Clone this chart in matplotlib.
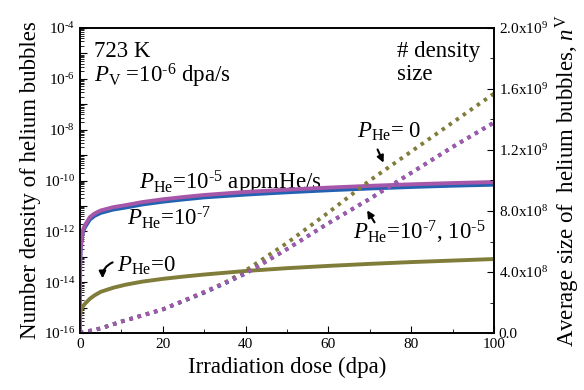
import matplotlib
matplotlib.use('agg')
import matplotlib.pyplot as plt
import matplotlib.ticker as mticker
import numpy as np

plt.rcParams['font.family'] = ['Liberation Serif', 'DejaVu Serif']
plt.rcParams['mathtext.fontset'] = 'custom'
plt.rcParams['mathtext.rm'] = 'Liberation Serif'
plt.rcParams['mathtext.it'] = 'Liberation Serif:italic'

# number density of helium bubbles (log10 values), left axis
dose_n = [0, 0.02, 0.05, 0.15, 0.4, 0.7, 1.2, 2.4, 3.5, 5, 8, 11, 15, 20, 25,
          30, 40, 50, 60, 70, 80, 90, 100]
logn_he5 = [-16, -14.0, -13.3, -12.7, -12.3, -11.95, -11.75, -11.44, -11.3,
            -11.18, -11.05, -10.97, -10.85, -10.74, -10.65, -10.57, -10.45,
            -10.36, -10.28, -10.21, -10.15, -10.10, -10.06]
logn_he7 = [-16, -14.1, -13.4, -12.8, -12.4, -12.05, -11.85, -11.54, -11.4,
            -11.28, -11.15, -11.07, -10.95, -10.84, -10.75, -10.67, -10.56,
            -10.47, -10.39, -10.32, -10.26, -10.21, -10.17]
logn_he0 = [-16, -15.5, -15.3, -15.15, -15.03, -14.95, -14.85, -14.65, -14.52,
            -14.38, -14.22, -14.1, -13.98, -13.87, -13.78, -13.7, -13.56,
            -13.45, -13.36, -13.28, -13.21, -13.15, -13.09]

# average size of helium bubbles, right axis
dose_s = [0, 5, 10, 20, 30, 35, 40, 50, 60, 70, 80, 90, 100]
size_he0 = [0, 0.03e9, 0.075e9, 0.155e9, 0.265e9, 0.33e9, 0.41e9, 0.59e9, 0.79e9,
            1.00e9, 1.19e9, 1.38e9, 1.57e9]
size_he7 = [0, 0.03e9, 0.075e9, 0.155e9, 0.265e9, 0.325e9, 0.39e9, 0.55e9, 0.72e9,
            0.88e9, 1.05e9, 1.22e9, 1.38e9]
size_he5 = [0, 0.03e9, 0.075e9, 0.155e9, 0.27e9, 0.33e9, 0.39e9, 0.55e9, 0.72e9,
            0.88e9, 1.05e9, 1.22e9, 1.38e9]

right_ticks = [0, 0.4e9, 0.8e9, 1.2e9, 1.6e9, 2.0e9]
right_labels = ['0.0', r'4.0x10$^{8}$', r'8.0x10$^{8}$', r'1.2x10$^{9}$',
                r'1.6x10$^{9}$', r'2.0x10$^{9}$']

c_purple = '#a757a9'
c_blue = '#2361b1'
c_olive = '#807c3a'

fig = plt.figure(figsize=(5.84, 3.9), dpi=100)
ax = fig.add_axes([80 / 584, 1 - 333 / 390, 414 / 584, 305 / 390])
ax2 = ax.twinx()

ax.plot(dose_n, 10 ** np.array(logn_he7), color=c_blue, lw=2.6, zorder=3)
ax.plot(dose_n, 10 ** np.array(logn_he5), color=c_purple, lw=2.8, zorder=4)
ax.plot(dose_n, 10 ** np.array(logn_he0), color=c_olive, lw=2.8, zorder=3)

dots = (0, (0.9, 1.3))
ax2.plot(dose_s, size_he0, color=c_olive, lw=2.8, ls=dots)
ax2.plot(dose_s, size_he7, color=c_blue, lw=2.8, ls=dots)
ax2.plot(dose_s, size_he5, color=c_purple, lw=2.8, ls=dots)

ax.set_yscale('log')
ax.set_xlim(0, 100)
ax.set_ylim(1e-16, 1e-4)
ax2.set_ylim(0, 2.0e9)

ax.xaxis.set_major_locator(mticker.MultipleLocator(20))
ax.xaxis.set_minor_locator(mticker.MultipleLocator(10))
ax.yaxis.set_major_locator(mticker.LogLocator(base=10, numticks=20))
ax.yaxis.set_minor_locator(mticker.LogLocator(base=10, subs=np.arange(2, 10), numticks=20))
ax.yaxis.set_major_formatter(mticker.FuncFormatter(
    lambda v, p: r'10$^{\text{-%d}}$' % -round(np.log10(v)) if round(np.log10(v)) % 2 == 0 else ''))
ax.yaxis.set_minor_formatter(mticker.NullFormatter())

ax2.set_yticks(right_ticks)
ax2.set_yticklabels(right_labels)
ax2.yaxis.set_minor_locator(mticker.MultipleLocator(0.2e9))

ax.tick_params(which='both', direction='in', labelsize=11, top=False, right=False)
ax.tick_params(which='major', length=5)
ax.tick_params(which='minor', length=3)
ax2.tick_params(which='both', direction='in', labelsize=11)
ax2.tick_params(which='major', length=5)
ax2.tick_params(which='minor', length=3)

for a in (ax, ax2):
    for s in a.spines.values():
        s.set_linewidth(1.2)

ax.set_xlabel('Irradiation dose (dpa)', fontsize=16.5, labelpad=4)
ax.set_ylabel('Number density of helium bubbles', fontsize=16.5, labelpad=2)
ax2.set_ylabel(r'Average size of  helium bubbles, $n^{\mathrm{V}}$', fontsize=16.5, labelpad=4)

fs = 16.5
ax.text(0.035, 0.905, '723 K', transform=ax.transAxes, fontsize=fs, va='baseline')
ax.text(0.035, 0.82, r'$P_{\mathrm{V}}$ =10$^{\text{-6}}$ dpa/s', transform=ax.transAxes,
        fontsize=fs, va='baseline')
ax.text(0.765, 0.905, '# density', transform=ax.transAxes, fontsize=fs, va='baseline')
ax.text(0.765, 0.83, 'size', transform=ax.transAxes, fontsize=fs, va='baseline')

ax.text(0.143, 0.47, r'$P_{\mathrm{He}}$=10$^{\text{-5}}$ appmHe/s', transform=ax.transAxes,
        fontsize=fs, va='baseline')
ax.text(0.114, 0.355, r'$P_{\mathrm{He}}$=10$^{\text{-7}}$', transform=ax.transAxes,
        fontsize=fs, va='baseline')
ax.text(0.09, 0.2, r'$P_{\mathrm{He}}$=0', transform=ax.transAxes,
        fontsize=fs, va='baseline')
ax.text(0.67, 0.64, r'$P_{\mathrm{He}}$= 0', transform=ax.transAxes,
        fontsize=fs, va='baseline')
ax.text(0.66, 0.305, r'$P_{\mathrm{He}}$=10$^{\text{-7}}$, 10$^{\text{-5}}$', transform=ax.transAxes,
        fontsize=fs, va='baseline')

arrow = dict(arrowstyle='-|>', color='black', lw=1.5, mutation_scale=10)
ax.annotate('', xy=(0.736, 0.55), xytext=(0.716, 0.61), xycoords='axes fraction',
            arrowprops=arrow)
ax.annotate('', xy=(0.69, 0.41), xytext=(0.715, 0.355), xycoords='axes fraction',
            arrowprops=arrow)
ax.annotate('', xy=(0.055, 0.17), xytext=(0.085, 0.235), xycoords='axes fraction',
            arrowprops=dict(arrowstyle='-|>', color='black', lw=1.5, mutation_scale=10,
                            connectionstyle='arc3,rad=0.4'))

fig.savefig('out.png', dpi=100)
